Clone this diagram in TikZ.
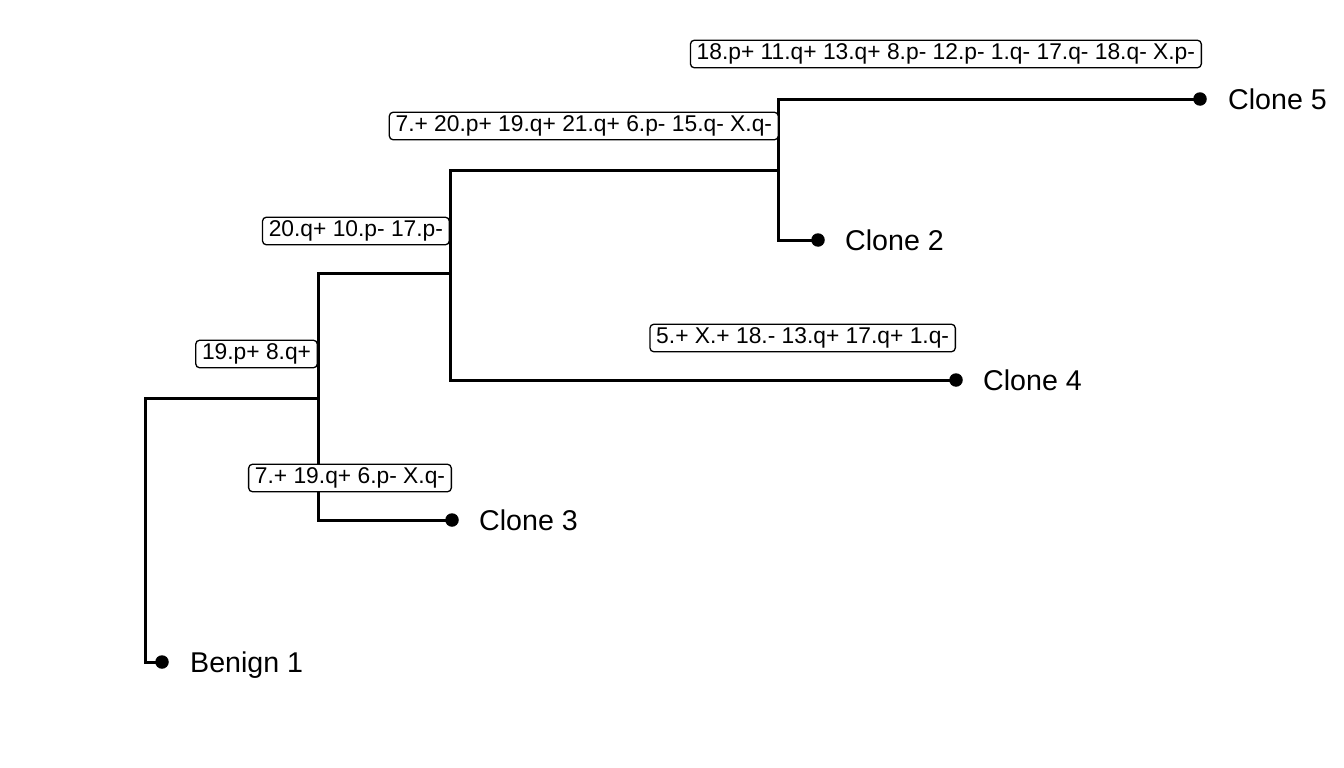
\documentclass[tikz,border=0pt]{standalone}
\usepackage{fontspec}
\setmainfont{Liberation Sans}
\begin{document}
\begin{tikzpicture}[x=1pt,y=-1pt,
  edge/.style={line width=3pt, line cap=rect},
  tip/.style={circle, fill=black, inner sep=0pt, minimum size=13.5pt},
  tiplab/.style={anchor=base west, inner sep=0pt, font=\fontsize{28.6}{33}\selectfont},
  lab/.style={draw, line width=1.3pt, rounded corners=4pt, fill=white, anchor=east,
    inner xsep=6.3pt, inner ysep=3.3pt, text height=16.3pt, text depth=4.7pt,
    font=\fontsize{22.8}{27}\selectfont}]
\useasboundingbox (0,0) rectangle (1344,768);
% internal nodes
\coordinate (r) at (145,530);
\coordinate (n1) at (318,398);
\coordinate (n2) at (450,273);
\coordinate (n3) at (778,170);
% tips
\node[tip] (b1) at (162,662) {};
\node[tip] (c3) at (452,520) {};
\node[tip] (c4) at (956,380) {};
\node[tip] (c2) at (818,240) {};
\node[tip] (c5) at (1200,99) {};
% edges
\draw[edge] (r) |- (b1.center);
\draw[edge] (r) |- (n1);
\draw[edge] (n1) |- (c3.center);
\draw[edge] (n1) |- (n2);
\draw[edge] (n2) |- (c4.center);
\draw[edge] (n2) |- (n3);
\draw[edge] (n3) |- (c2.center);
\draw[edge] (n3) |- (c5.center);
% tip labels
\node[tiplab] (tb1) at ([xshift=28pt,yshift=-10.3pt]b1.center) {Benign 1};
\node[tiplab] (tc3) at ([xshift=27pt,yshift=-10.3pt]c3.center) {Clone 3};
\node[tiplab] (tc4) at ([xshift=27pt,yshift=-10.3pt]c4.center) {Clone 4};
\node[tiplab] (tc2) at ([xshift=27pt,yshift=-10.3pt]c2.center) {Clone 2};
\node[tiplab] (tc5) at ([xshift=28pt,yshift=-10.3pt]c5.center) {Clone 5};
% edge labels
\node[lab] (l1) at ([yshift=44pt]n1) {19.p+ 8.q+};
\node[lab] (l2) at ([yshift=42pt]n2) {20.q+ 10.p- 17.p-};
\node[lab] (l3) at ([yshift=44pt,xshift=1pt]n3) {7.+ 20.p+ 19.q+ 21.q+ 6.p- 15.q- X.q-};
\node[lab] (lc3) at ([yshift=42pt]c3.center) {7.+ 19.q+ 6.p- X.q-};
\node[lab] (lc4) at ([yshift=42pt]c4.center) {5.+ X.+ 18.- 13.q+ 17.q+ 1.q-};
\node[lab] (lc5) at ([yshift=45pt,xshift=2pt]c5.center) {18.p+ 11.q+ 13.q+ 8.p- 12.p- 1.q- 17.q- 18.q- X.p-};
\end{tikzpicture}
\end{document}
